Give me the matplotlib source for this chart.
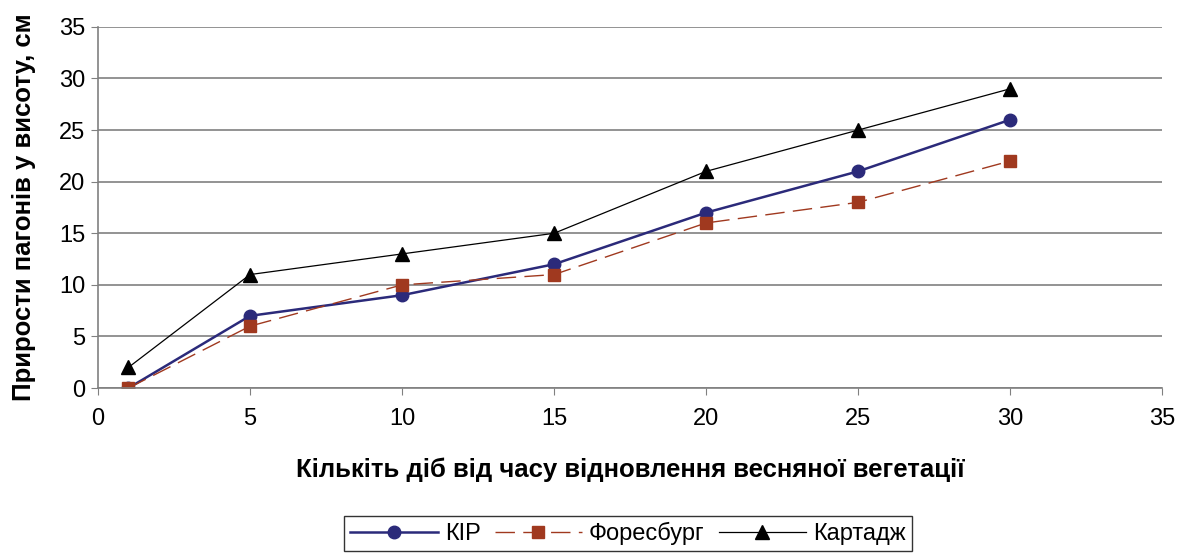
import matplotlib.pyplot as plt

plt.rcParams['font.family'] = ['Liberation Sans', 'DejaVu Sans']

days = [1, 5, 10, 15, 20, 25, 30]
kip = [0, 7, 9, 12, 17, 21, 26]
foresburg = [0, 6, 10, 11, 16, 18, 22]
kartadzh = [2, 11, 13, 15, 21, 25, 29]

fig = plt.figure(figsize=(11.85, 5.6), dpi=100)
ax = fig.add_axes([0.0827, 0.307, 0.898, 0.645])

ax.plot(days, kip, color='#2b2a7a', lw=1.8, marker='o', ms=9, label='КІР')
ax.plot(days, foresburg, color='#a0391f', lw=1.0, dashes=(14, 6), marker='s', ms=9,
        label='Форесбург')
ax.plot(days, kartadzh, color='black', lw=0.9, marker='^', ms=10, label='Картадж')

ax.set_xlim(0, 35)
ax.set_ylim(0, 35)
ax.set_xticks(range(0, 36, 5))
ax.set_yticks(range(0, 36, 5))
ax.grid(axis='y', color='#808080', lw=1.2)
ax.set_axisbelow(True)
for s in ['top', 'right']:
    ax.spines[s].set_visible(False)
for s in ['left', 'bottom']:
    ax.spines[s].set_color('#808080')
    ax.spines[s].set_linewidth(1.2)
ax.tick_params(direction='out', length=5, color='#808080', labelsize=17)
ax.tick_params(axis='x', pad=9)
ax.tick_params(axis='y', pad=4)

ax.set_xlabel('Кількіть діб від часу відновлення весняної вегетації',
              fontsize=18.5, fontweight='bold', labelpad=20)
ax.set_ylabel('Прирости пагонів у висоту, см', fontsize=18.5, fontweight='bold', labelpad=17)

leg = fig.legend(loc='lower center', bbox_to_anchor=(0.53, -0.005), ncol=3, fontsize=17,
                 frameon=True, fancybox=False, edgecolor='black', handlelength=3.7,
                 columnspacing=0.6, handletextpad=0.3, borderpad=0.25)
leg.get_frame().set_linewidth(1.0)

fig.savefig('out.png', dpi=100)
